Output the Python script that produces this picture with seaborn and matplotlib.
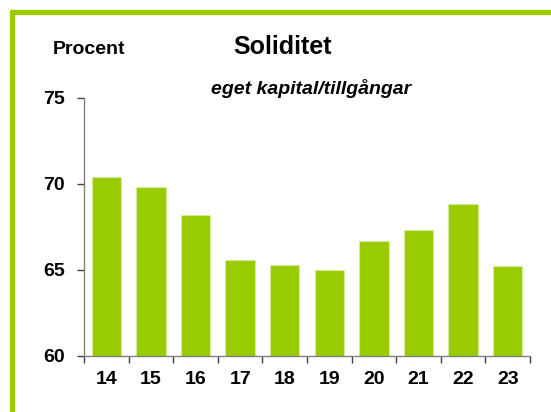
import matplotlib
matplotlib.use("Agg")
import matplotlib.pyplot as plt
from matplotlib.lines import Line2D
import pandas as pd
import seaborn as sns

years = ['14', '15', '16', '17', '18', '19', '20', '21', '22', '23']
soliditet = [70.4, 69.8, 68.2, 65.6, 65.3, 65.0, 66.7, 67.3, 68.8, 65.2]
y_ticks = [60, 65, 70, 75]

green = '#99CC00'

sns.set_style("white")
plt.rcParams['font.family'] = ['Liberation Sans', 'DejaVu Sans']
plt.rcParams['text.color'] = 'black'
plt.rcParams['xtick.labelcolor'] = 'black'
plt.rcParams['ytick.labelcolor'] = 'black'

df = pd.DataFrame({'year': years, 'value': soliditet})

fig = plt.figure(figsize=(5.51, 4.12), dpi=100)
ax = fig.add_axes([0.1525, 0.136, 0.8095, 0.627])

sns.barplot(data=df, x='year', y='value', color=green, saturation=1,
            width=0.66, edgecolor='#D6EB99', linewidth=0.8, ax=ax)

ax.set_ylim(60, 75)
ax.set_xlim(-0.5, len(years) - 0.5)
ax.set_yticks(y_ticks)
ax.set_xticks(range(len(years)))
ax.set_xticklabels(years)
ax.set_xticks([i - 0.5 for i in range(len(years) + 1)], minor=True)
ax.set_xlabel('')
ax.set_ylabel('')

for s in ['top', 'right']:
    ax.spines[s].set_visible(False)
for s in ['left', 'bottom']:
    ax.spines[s].set_color('#808080')
    ax.spines[s].set_linewidth(1.0)

ax.tick_params(axis='y', which='major', left=True, length=5, width=1,
               color='#404040', pad=9, labelsize=14, labelcolor='black')
ax.tick_params(axis='x', which='major', bottom=False, length=0, pad=11,
               labelsize=14, labelcolor='black')
ax.tick_params(axis='x', which='minor', bottom=True, length=5, width=1,
               color='#404040')
for lab in ax.get_xticklabels() + ax.get_yticklabels():
    lab.set_fontweight('bold')

fig.text(89 / 551, 1 - 50 / 412, 'Procent', ha='center', va='center',
         fontsize=14, fontweight='bold', color='black')
fig.text(283 / 551, 1 - 47 / 412, 'Soliditet', ha='center', va='center',
         fontsize=18, fontweight='bold', color='black')
fig.text(311 / 551, 1 - 88 / 412, 'eget kapital/tillgångar', ha='center',
         va='center', fontsize=14, fontweight='bold', style='italic',
         color='black')

# green frame, cut off at the right and bottom edges
fig.add_artist(Line2D([9.5 / 551, 1.0], [1 - 12 / 412, 1 - 12 / 412],
                      transform=fig.transFigure, color=green, lw=3.8,
                      solid_capstyle='butt'))
fig.add_artist(Line2D([12 / 551, 12 / 551], [1 - 9.5 / 412, 0.0],
                      transform=fig.transFigure, color=green, lw=3.8,
                      solid_capstyle='butt'))

fig.savefig('out.png', dpi=100)
